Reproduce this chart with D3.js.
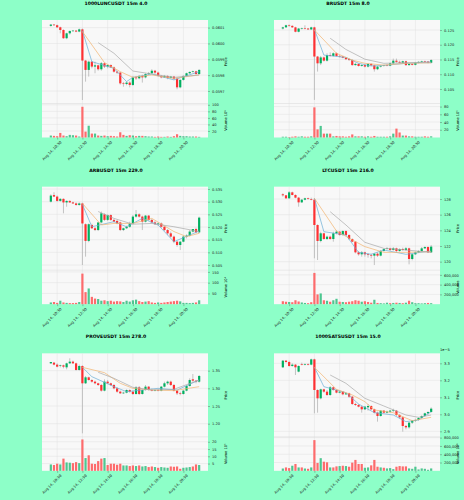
<!DOCTYPE html>
<html>
<head>
<meta charset="utf-8">
<script src="https://cdn.jsdelivr.net/npm/d3@7"></script>
<style>
  body { margin: 0; background: #8dffc8; }
  text { font-family: "DejaVu Sans", sans-serif; }
</style>
</head>
<body>
<div id="chart"></div>
<script>
// x ticks (candle index) shared by all six panels
const tickIdx = [2, 10, 18, 26, 34, 42];
const tickLabels = ["Aug 14, 10:30", "Aug 14, 12:30", "Aug 14, 14:30", "Aug 14, 16:30", "Aug 14, 18:30", "Aug 14, 20:30"];

// ---- 1000LUNCUSDT  [open, high, low, close]
const luncOhlc = [
[0.060111,0.060123,0.060106,0.060119],[0.060119,0.060123,0.060111,0.060115],[0.060115,0.060119,0.060098,0.060102],
[0.060102,0.060106,0.060064,0.060085],[0.060085,0.060089,0.060029,0.060033],[0.060033,0.060068,0.060027,0.060064],
[0.060064,0.060081,0.060056,0.060079],[0.060079,0.060085,0.060075,0.060081],[0.060081,0.060085,0.060071,0.060075],
[0.060075,0.060094,0.060071,0.060089],[0.060089,0.060094,0.059643,0.059892],[0.059892,0.059896,0.059759,0.059833],
[0.059833,0.059892,0.059791,0.059885],[0.059885,0.059889,0.059843,0.059854],[0.059854,0.059885,0.059812,0.059862],
[0.059862,0.059866,0.059828,0.059837],[0.059837,0.059883,0.059828,0.059875],[0.059875,0.059879,0.059845,0.059854],
[0.059854,0.059868,0.059843,0.059864],[0.059864,0.059868,0.059847,0.059849],[0.059849,0.059854,0.059816,0.059822],
[0.059822,0.059828,0.059807,0.059816],[0.059816,0.059820,0.059740,0.059748],[0.059748,0.059757,0.059727,0.059744],
[0.059744,0.059761,0.059736,0.059753],[0.059753,0.059761,0.059723,0.059738],[0.059738,0.059795,0.059732,0.059786],
[0.059786,0.059795,0.059770,0.059780],[0.059780,0.059801,0.059774,0.059795],[0.059795,0.059803,0.059753,0.059786],
[0.059786,0.059812,0.059780,0.059807],[0.059807,0.059820,0.059801,0.059812],[0.059812,0.059837,0.059807,0.059828],
[0.059828,0.059833,0.059807,0.059816],[0.059816,0.059822,0.059791,0.059795],[0.059795,0.059801,0.059780,0.059786],
[0.059786,0.059801,0.059782,0.059795],[0.059795,0.059799,0.059774,0.059782],[0.059782,0.059795,0.059778,0.059791],
[0.059791,0.059795,0.059770,0.059778],[0.059778,0.059786,0.059711,0.059723],[0.059723,0.059774,0.059717,0.059770],
[0.059770,0.059799,0.059765,0.059795],[0.059795,0.059816,0.059791,0.059812],[0.059812,0.059824,0.059807,0.059820],
[0.059820,0.059828,0.059816,0.059824],[0.059824,0.059828,0.059803,0.059807],[0.059807,0.059837,0.059803,0.059833]
];
const luncVol = [6,5,4,14,6,4,8,7,6,3,94,18,36,12,12,6,5,6,4,5,4,3,16,8,5,7,6,4,5,5,4,3,3,2,3,2,2,3,2,4,10,5,4,4,3,3,3,2];
const luncMaFast = [[10,0.060081],[13,0.059885],[20,0.059843],[24,0.059759],[26,0.059786],[32,0.059807],[39,0.05977],[47,0.059822]];
const luncMaMid = [[10,0.060075],[17,0.059879],[22,0.059822],[26,0.059786],[32,0.059801],[39,0.05978],[47,0.059801]];
const luncMaSlow = [[15,0.060005],[20,0.059938],[26,0.059826],[32,0.059807],[39,0.059786],[47,0.059801]];
const luncPriceTicks = [0.0597, 0.0598, 0.0599, 0.0600, 0.0601];
const luncVolTicks = [20, 40, 60, 80, 100];

// ---- BRUSDT
const brOhlc = [
[0.1255,0.1261,0.1252,0.1259],[0.1259,0.1268,0.1258,0.1266],[0.1266,0.1269,0.1261,0.1264],[0.1264,0.1266,0.1257,0.1259],
[0.1259,0.1261,0.1242,0.1244],[0.1244,0.1257,0.1242,0.1255],[0.1255,0.1258,0.1252,0.1256],[0.1256,0.1266,0.1252,0.1255],
[0.1255,0.1257,0.1250,0.1252],[0.1252,0.1261,0.1250,0.1259],[0.1259,0.1261,0.1013,0.1160],[0.1160,0.1162,0.1109,0.1137],
[0.1137,0.1162,0.1131,0.1157],[0.1157,0.1160,0.1143,0.1146],[0.1146,0.1171,0.1143,0.1165],[0.1165,0.1174,0.1160,0.1162],
[0.1162,0.1174,0.1160,0.1171],[0.1171,0.1174,0.1160,0.1162],[0.1162,0.1165,0.1157,0.1160],[0.1160,0.1162,0.1154,0.1156],
[0.1156,0.1158,0.1148,0.1151],[0.1151,0.1154,0.1146,0.1148],[0.1148,0.1151,0.1129,0.1131],[0.1131,0.1139,0.1129,0.1135],
[0.1135,0.1137,0.1126,0.1128],[0.1128,0.1134,0.1126,0.1131],[0.1131,0.1134,0.1123,0.1126],[0.1126,0.1137,0.1123,0.1135],
[0.1135,0.1137,0.1128,0.1130],[0.1130,0.1132,0.1109,0.1117],[0.1117,0.1128,0.1114,0.1126],[0.1126,0.1130,0.1123,0.1128],
[0.1128,0.1132,0.1126,0.1130],[0.1130,0.1134,0.1127,0.1129],[0.1129,0.1139,0.1127,0.1137],[0.1137,0.1153,0.1135,0.1146],
[0.1146,0.1153,0.1139,0.1142],[0.1142,0.1146,0.1137,0.1139],[0.1139,0.1146,0.1137,0.1144],[0.1144,0.1146,0.1128,0.1131],
[0.1131,0.1137,0.1129,0.1135],[0.1135,0.1137,0.1130,0.1132],[0.1132,0.1142,0.1130,0.1139],[0.1139,0.1144,0.1137,0.1142],
[0.1142,0.1146,0.1139,0.1144],[0.1144,0.1146,0.1139,0.1143],[0.1143,0.1145,0.1137,0.1139],[0.1139,0.1151,0.1137,0.1148]
];
const brVol = [2,2,1,2,3,2,3,2,2,3,78,21,30,10,10,10,3,4,3,3,2,3,8,3,3,3,2,3,2,4,2,2,2,2,3,10,23,13,5,5,3,3,2,2,2,3,2,3];
const brMaFast = [[10,0.1252],[13,0.1165],[20,0.1157],[24,0.1137],[28,0.1128],[32,0.1130],[39,0.1137],[47,0.1142]];
const brMaMid = [[10,0.1250],[17,0.1171],[22,0.1148],[26,0.1137],[32,0.1131],[39,0.1137],[47,0.1139]];
const brMaSlow = [[15,0.1222],[20,0.1184],[26,0.1151],[32,0.1137],[39,0.1139],[47,0.1139]];
const brPriceTicks = [0.105, 0.110, 0.115, 0.120, 0.125];
const brVolTicks = [20, 40, 60, 80];

// ---- ARBUSDT
const arbOhlc = [
[0.5300,0.5329,0.5297,0.5324],[0.5326,0.5337,0.5319,0.5320],[0.5320,0.5324,0.5300,0.5303],[0.5303,0.5314,0.5300,0.5311],
[0.5311,0.5313,0.5254,0.5297],[0.5297,0.5305,0.5280,0.5303],[0.5303,0.5305,0.5295,0.5297],[0.5297,0.5300,0.5291,0.5293],
[0.5293,0.5297,0.5284,0.5287],[0.5287,0.5297,0.5284,0.5293],[0.5293,0.5296,0.5050,0.5214],[0.5211,0.5214,0.5083,0.5145],
[0.5145,0.5214,0.5140,0.5211],[0.5208,0.5213,0.5192,0.5195],[0.5195,0.5200,0.5184,0.5188],[0.5188,0.5218,0.5184,0.5218],
[0.5218,0.5261,0.5214,0.5254],[0.5250,0.5254,0.5224,0.5228],[0.5228,0.5250,0.5224,0.5247],[0.5247,0.5250,0.5224,0.5228],
[0.5228,0.5232,0.5218,0.5221],[0.5224,0.5228,0.5211,0.5214],[0.5218,0.5221,0.5184,0.5188],[0.5188,0.5197,0.5184,0.5195],
[0.5195,0.5205,0.5192,0.5201],[0.5201,0.5221,0.5197,0.5214],[0.5214,0.5247,0.5211,0.5241],[0.5241,0.5267,0.5237,0.5250],
[0.5250,0.5254,0.5237,0.5241],[0.5241,0.5245,0.5188,0.5221],[0.5221,0.5247,0.5218,0.5245],[0.5245,0.5247,0.5224,0.5228],
[0.5228,0.5232,0.5214,0.5218],[0.5218,0.5224,0.5208,0.5211],[0.5211,0.5218,0.5205,0.5214],[0.5214,0.5218,0.5197,0.5201],
[0.5201,0.5205,0.5184,0.5188],[0.5188,0.5192,0.5168,0.5175],[0.5175,0.5182,0.5158,0.5162],[0.5162,0.5166,0.5136,0.5142],
[0.5142,0.5145,0.5122,0.5129],[0.5129,0.5145,0.5109,0.5142],[0.5142,0.5166,0.5140,0.5162],[0.5162,0.5171,0.5155,0.5166],
[0.5166,0.5188,0.5163,0.5182],[0.5182,0.5192,0.5179,0.5192],[0.5192,0.5197,0.5175,0.5179],[0.5179,0.5241,0.5175,0.5237]
];
const arbVol = [8,10,6,16,8,6,5,5,6,10,142,56,73,34,26,24,16,18,14,16,12,14,13,10,16,12,18,21,14,10,12,14,8,6,8,6,8,10,12,14,16,13,6,6,5,6,8,18];
const arbMaFast = [[10,0.5289],[13,0.5201],[20,0.5221],[24,0.5201],[29,0.5234],[34,0.5208],[39,0.5142],[47,0.5184]];
const arbMaMid = [[10,0.5293],[16,0.5208],[20,0.5214],[26,0.5214],[32,0.5234],[39,0.5182],[43,0.5162],[47,0.5175]];
const arbMaSlow = [[15,0.5261],[20,0.5234],[26,0.5211],[32,0.5214],[39,0.5201],[47,0.5182]];
const arbPriceTicks = [0.505, 0.510, 0.515, 0.520, 0.525, 0.530, 0.535];
const arbVolTicks = [50, 100, 150];

// ---- LTCUSDT
const ltcOhlc = [
[128.60,128.72,128.30,128.47],[128.47,128.51,128.00,128.09],[128.09,129.02,128.00,128.85],[128.85,128.94,128.47,128.51],
[128.51,128.60,128.09,128.17],[128.17,128.26,127.02,127.57],[127.57,128.00,127.49,127.91],[127.91,128.17,127.83,128.09],
[128.09,128.17,127.91,128.00],[128.00,128.17,127.83,127.91],[127.91,128.09,120.43,124.68],[124.68,124.77,120.21,122.64],
[122.64,123.83,122.47,123.62],[123.62,123.70,122.81,122.89],[122.89,123.32,122.77,123.19],[123.19,123.32,122.81,122.89],
[122.89,123.83,122.55,123.62],[123.62,124.00,123.49,123.83],[123.83,123.91,123.32,123.40],[123.40,124.00,123.32,123.91],
[123.91,124.00,123.32,123.40],[123.40,123.49,122.77,122.89],[122.89,122.98,122.47,122.55],[122.55,122.64,121.06,121.19],
[121.19,121.36,120.77,120.94],[120.94,121.36,120.64,121.19],[121.19,121.28,120.64,120.94],[120.94,121.11,120.51,120.85],
[120.85,121.02,120.43,120.77],[120.77,121.11,119.57,121.02],[121.02,121.19,120.60,120.77],[120.77,121.49,120.68,121.36],
[121.36,121.70,121.28,121.62],[121.62,121.87,121.53,121.70],[121.70,121.79,121.36,121.49],[121.49,121.87,121.40,121.70],
[121.70,121.79,121.19,121.36],[121.36,121.70,121.28,121.62],[121.62,121.79,121.40,121.49],[121.49,121.87,121.36,121.70],
[121.70,121.79,119.66,120.34],[120.34,121.02,120.17,120.94],[120.94,121.28,120.85,121.19],[121.19,121.45,121.11,121.36],
[121.36,121.87,121.28,121.70],[121.70,121.96,121.62,121.87],[121.87,121.96,121.11,121.19],[121.19,122.13,121.11,121.92]
];
const ltcVol = [60000,50000,45000,40000,80000,55000,35000,25000,20000,40000,640000,200000,220000,80000,70000,50000,
  80000,110000,50000,45000,40000,50000,60000,80000,70000,50000,60000,45000,30000,90000,25000,20000,
  15000,30000,20000,25000,30000,25000,20000,30000,70000,40000,20000,20000,15000,20000,25000,20000];
const ltcMaFast = [[10,128.09],[13,123.83],[20,123.40],[24,121.19],[28,120.94],[32,121.49],[39,120.94],[47,121.36]];
const ltcMaMid = [[10,128.09],[17,123.91],[22,122.77],[26,121.92],[32,121.19],[39,121.19],[47,121.28]];
const ltcMaSlow = [[15,126.38],[20,124.68],[26,122.47],[32,121.70],[39,121.49],[47,121.19]];
const ltcPriceTicks = [120, 122, 124, 126, 128];
const ltcVolTicks = [200000, 400000, 600000];

// ---- PROVEUSDT
const proveOhlc = [
[1.3707,1.3745,1.3689,1.3745],[1.3726,1.3745,1.3651,1.3670],[1.3670,1.3707,1.3594,1.3613],[1.3632,1.3670,1.3594,1.3651],
[1.3651,1.3670,1.3566,1.3613],[1.3594,1.3726,1.3538,1.3707],[1.3707,1.3849,1.3689,1.3755],[1.3755,1.3783,1.3689,1.3707],
[1.3707,1.3726,1.3500,1.3519],[1.3519,1.3670,1.3500,1.3632],[1.3632,1.3651,1.1727,1.3142],[1.3142,1.3349,1.3123,1.3311],
[1.3311,1.3330,1.3217,1.3236],[1.3236,1.3255,1.3160,1.3189],[1.3189,1.3217,1.3113,1.3142],[1.3142,1.3160,1.3066,1.3094],
[1.3094,1.3123,1.2906,1.2934],[1.2934,1.3255,1.2915,1.3189],[1.3189,1.3236,1.3123,1.3142],[1.3142,1.3160,1.3066,1.3094],
[1.3094,1.3123,1.2972,1.3000],[1.3000,1.3028,1.2877,1.2906],[1.2906,1.2934,1.2840,1.2859],[1.2859,1.2906,1.2840,1.2877],
[1.2877,1.2972,1.2859,1.2953],[1.2953,1.2972,1.2877,1.2906],[1.2906,1.2934,1.2811,1.2840],[1.2840,1.3066,1.2821,1.3028],
[1.3028,1.3066,1.2811,1.2840],[1.2840,1.2972,1.2821,1.2953],[1.2953,1.3094,1.2934,1.3047],[1.3047,1.3066,1.2934,1.2953],
[1.2953,1.2991,1.2915,1.2934],[1.2934,1.2972,1.2915,1.2953],[1.2953,1.2991,1.2915,1.2934],[1.2934,1.3066,1.2915,1.3047],
[1.3047,1.3189,1.3028,1.3142],[1.3142,1.3217,1.3094,1.3189],[1.3189,1.3217,1.3066,1.3094],[1.3094,1.3123,1.2915,1.2934],
[1.2934,1.2953,1.2811,1.2859],[1.2859,1.2906,1.2802,1.2840],[1.2840,1.2953,1.2821,1.2934],[1.2934,1.3094,1.2915,1.3066],
[1.3066,1.3283,1.3047,1.3236],[1.3255,1.3406,1.3189,1.3217],[1.3217,1.3236,1.3142,1.3189],[1.3189,1.3377,1.3160,1.3349]
];
const proveVol = [4.4,4,4.9,4.4,8.4,5.8,5.6,5.3,6,5.3,21.6,8.8,10.7,4.9,4.7,6.7,8.4,8.8,4,4.9,4.9,4.2,4.9,3.7,
  3.7,3.3,3.7,3.3,3.7,3,3.3,2.6,3,2.6,2.1,2.6,2.3,2.1,3,2.8,3,1.4,2.1,2.3,2.6,3,4.4,4];
const proveMaFast = [[10,1.3594],[13,1.3330],[20,1.3047],[24,1.2906],[29,1.2953],[34,1.3000],[40,1.2953],[47,1.3236]];
const proveMaMid = [[10,1.3594],[17,1.3443],[22,1.3142],[26,1.3000],[32,1.2953],[39,1.2934],[47,1.3047]];
const proveMaSlow = [[15,1.3453],[20,1.3283],[26,1.3028],[32,1.2953],[39,1.2972],[47,1.3236]];
const provePriceTicks = [1.20, 1.25, 1.30, 1.35];
const proveVolTicks = [5, 10, 15, 20];

// ---- 1000SATSUSDT (price in units of 1e-5, as the axis shows)
const satsOhlc = [
[3.2765,3.3196,3.2725,3.3157],[3.3157,3.3196,3.3039,3.3078],[3.3078,3.3157,3.2804,3.2843],[3.2843,3.3000,3.2804,3.2922],
[3.2922,3.2961,3.2314,3.2765],[3.2510,3.2882,3.2471,3.2843],[3.2961,3.3039,3.2882,3.2922],[3.2922,3.3000,3.2882,3.2961],
[3.2961,3.3000,3.2882,3.2922],[3.2922,3.3275,3.2882,3.3235],[3.3235,3.3275,3.0059,3.1431],[3.1431,3.1471,3.0098,3.0941],
[3.0941,3.1510,3.0882,3.1471],[3.1471,3.1510,3.1275,3.1333],[3.1333,3.1431,3.1078,3.1137],[3.1137,3.1667,3.1078,3.1588],
[3.1588,3.1627,3.1392,3.1431],[3.1431,3.1471,3.1235,3.1275],[3.1275,3.1392,3.1235,3.1333],[3.1333,3.1373,3.1118,3.1176],
[3.1176,3.1275,3.1137,3.1235],[3.1235,3.1275,3.0961,3.1039],[3.1039,3.1078,3.0549,3.0608],[3.0608,3.0686,3.0490,3.0549],
[3.0549,3.0608,3.0412,3.0451],[3.0451,3.0490,3.0098,3.0294],[3.0294,3.0490,3.0255,3.0451],[3.0412,3.0608,3.0216,3.0490],
[3.0490,3.0529,3.0255,3.0294],[3.0294,3.0333,3.0059,3.0098],[3.0098,3.0157,2.9569,2.9902],[2.9902,3.0255,2.9863,3.0216],
[3.0216,3.0255,3.0059,3.0098],[3.0098,3.0216,3.0059,3.0157],[3.0157,3.0255,3.0098,3.0216],[3.0216,3.0333,3.0137,3.0255],
[3.0216,3.0255,2.9902,2.9961],[2.9961,3.0020,2.9745,2.9824],[2.9824,2.9863,2.8980,2.9314],[2.9314,2.9373,2.9118,2.9235],
[2.9235,2.9549,2.9157,2.9510],[2.9510,2.9667,2.9431,2.9627],[2.9627,2.9745,2.9549,2.9667],[2.9667,2.9824,2.9627,2.9784],
[2.9784,2.9941,2.9745,2.9902],[2.9902,3.0098,2.9863,3.0059],[3.0059,3.0176,2.9961,3.0137],[3.0137,3.0412,3.0098,3.0333]
];
const satsVol = [56000,82000,66000,123000,165000,82000,82000,56000,49000,82000,740000,190000,305000,220000,205000,82000,
  82000,107000,115000,123000,115000,99000,197000,263000,165000,165000,74000,82000,132000,263000,99000,82000,
  74000,58000,66000,41000,99000,115000,107000,107000,58000,49000,99000,33000,58000,49000,25000,58000];
const satsMaFast = [[10,3.2765],[13,3.1627],[20,3.1275],[24,3.0608],[29,3.0098],[35,2.9961],[39,2.9569],[43,2.9667],[47,3.0157]];
const satsMaMid = [[10,3.2765],[17,3.1471],[22,3.1137],[26,3.0745],[29,3.0255],[35,3.0098],[41,2.9627],[47,2.9824]];
const satsMaSlow = [[15,3.2314],[20,3.1824],[26,3.0941],[32,3.0490],[39,2.9961],[43,2.9824],[47,2.9961]];
const satsPriceTicks = [2.9, 3.0, 3.1, 3.2, 3.3];
const satsVolTicks = [200000, 400000, 600000, 800000];

const panels = [
  { title: "1000LUNCUSDT 15m 4.0", ohlc: luncOhlc, vol: luncVol, ma: [luncMaFast, luncMaMid, luncMaSlow],
    price: [0.059621, 0.060148], pTicks: luncPriceTicks, pFmt: d3.format(".4f"),
    volMax: 104, vTicks: luncVolTicks, vLabel: "Volume  10\u2076" },
  { title: "BRUSDT 15m 8.0", ohlc: brOhlc, vol: brVol, ma: [brMaFast, brMaMid, brMaSlow],
    price: [0.10008, 0.12839], pTicks: brPriceTicks, pFmt: d3.format(".3f"),
    volMax: 88, vTicks: brVolTicks, vLabel: "Volume  10\u2075" },
  { title: "ARBUSDT 15m 229.0", ohlc: arbOhlc, vol: arbVol, ma: [arbMaFast, arbMaMid, arbMaSlow],
    price: [0.50296, 0.53592], pTicks: arbPriceTicks, pFmt: d3.format(".3f"),
    volMax: 158, vTicks: arbVolTicks, vLabel: "Volume  10\u2074" },
  { title: "LTCUSDT 15m 216.0", ohlc: ltcOhlc, vol: ltcVol, ma: [ltcMaFast, ltcMaMid, ltcMaSlow],
    price: [118.915, 129.574], pTicks: ltcPriceTicks, pFmt: d3.format("d"),
    volMax: 696000, vTicks: ltcVolTicks, vLabel: "Volume" },
  { title: "PROVEUSDT 15m 278.0", ohlc: proveOhlc, vol: proveVol, ma: [proveMaFast, proveMaMid, proveMaSlow],
    price: [1.1628, 1.3990], pTicks: provePriceTicks, pFmt: d3.format(".2f"),
    volMax: 23.4, vTicks: proveVolTicks, vLabel: "Volume  10\u2075" },
  { title: "1000SATSUSDT 15m 15.0", ohlc: satsOhlc, vol: satsVol, ma: [satsMaFast, satsMaMid, satsMaSlow],
    price: [2.8676, 3.3588], pTicks: satsPriceTicks, pFmt: d3.format(".1f"),
    volMax: 819000, vTicks: satsVolTicks, vLabel: "Volume  10\u2076", offset: "1e\u22125" }
];

const W = 464, H = 500;
const upColor = "#00b060", downColor = "#fe3032";
const upVol = "#4dc790", downVol = "#fd6b6c";
const maColors = ["#6aaed6", "#f2b36f", "#a9a9a9"];

const svg = d3.select("#chart").append("svg")
    .attr("width", W)
    .attr("height", H);

svg.append("rect").attr("width", W).attr("height", H).attr("fill", "#8dffc8");

panels.forEach((p, k) => {
  const col = k % 2, row = Math.floor(k / 2);
  const g = svg.append("g").attr("transform", `translate(${col * 232},${row * H / 3})`);

  const L = 42, R = 208, T = 20, S = 103.5, B = 137.5;
  const x = d3.scaleLinear().domain([-2.8, 49.8]).range([L, R]);
  const y = d3.scaleLinear().domain(p.price).range([S, T]);
  const yv = d3.scaleLinear().domain([0, p.volMax]).range([B, S]);
  const bw = 2.2;

  // plot faces
  g.append("rect").attr("x", L).attr("y", T).attr("width", R - L).attr("height", B - T)
    .attr("fill", "#f8f8f8");

  // grid
  const grid = g.append("g").attr("stroke", "#e0e0e0").attr("stroke-width", 0.5);
  grid.selectAll(".gx").data(tickIdx).enter().append("line")
    .attr("x1", d => x(d)).attr("x2", d => x(d)).attr("y1", T).attr("y2", B);
  grid.selectAll(".gy").data(p.pTicks).enter().append("line")
    .attr("x1", L).attr("x2", R).attr("y1", d => y(d)).attr("y2", d => y(d));
  grid.selectAll(".gv").data(p.vTicks).enter().append("line")
    .attr("x1", L).attr("x2", R).attr("y1", d => yv(d)).attr("y2", d => yv(d));
  g.append("line").attr("x1", L).attr("x2", R).attr("y1", S).attr("y2", S)
    .attr("stroke", "#d8d8d8").attr("stroke-width", 0.5);

  // volume bars
  g.append("g").selectAll("rect").data(p.vol).enter().append("rect")
    .attr("x", (d, i) => x(i) - bw / 2)
    .attr("y", d => yv(d))
    .attr("width", bw)
    .attr("height", d => B - yv(d))
    .attr("fill", (d, i) => p.ohlc[i][3] >= p.ohlc[i][0] ? upVol : downVol);

  // wicks
  g.append("g").selectAll("line").data(p.ohlc).enter().append("line")
    .attr("x1", (d, i) => x(i)).attr("x2", (d, i) => x(i))
    .attr("y1", d => y(d[1])).attr("y2", d => y(d[2]))
    .attr("stroke", "#a0a0a0").attr("stroke-width", 0.6);

  // bodies
  g.append("g").selectAll("rect").data(p.ohlc).enter().append("rect")
    .attr("x", (d, i) => x(i) - bw / 2)
    .attr("y", d => y(Math.max(d[0], d[3])))
    .attr("width", bw)
    .attr("height", d => Math.max(0.6, Math.abs(y(d[0]) - y(d[3]))))
    .attr("fill", d => d[3] >= d[0] ? upColor : downColor);

  // moving averages
  const line = d3.line().x(d => x(d[0])).y(d => y(d[1]));
  p.ma.forEach((m, j) => {
    g.append("path").datum(m)
      .attr("d", line)
      .attr("fill", "none")
      .attr("stroke", maColors[j])
      .attr("stroke-width", 0.7);
  });

  // axes
  const ya = g.append("g").attr("transform", `translate(${R},0)`)
    .call(d3.axisRight(y).tickValues(p.pTicks).tickFormat(p.pFmt).tickSize(2).tickPadding(2));
  const va = g.append("g").attr("transform", `translate(${R},0)`)
    .call(d3.axisRight(yv).tickValues(p.vTicks).tickSize(2).tickPadding(2));
  const xa = g.append("g").attr("transform", `translate(0,${B})`)
    .call(d3.axisBottom(x).tickValues(tickIdx).tickFormat((d, i) => tickLabels[i]).tickSize(2).tickPadding(1));
  [ya, va, xa].forEach(a => {
    a.select(".domain").remove();
    a.selectAll("line").attr("stroke", "#555").attr("stroke-width", 0.4);
    a.selectAll("text").attr("font-size", 3.6).attr("fill", "#222")
      .attr("font-family", "DejaVu Sans, sans-serif");
  });
  xa.selectAll("text")
    .attr("text-anchor", "end")
    .attr("dy", 0)
    .attr("transform", function () {
      return "translate(2,3) rotate(-45)";
    });

  // labels
  g.append("text").attr("x", 116).attr("y", 5)
    .attr("text-anchor", "middle").attr("font-size", 4.6).attr("font-weight", "bold")
    .text(p.title);
  g.append("text")
    .attr("transform", `translate(${R + 19},${(T + S) / 2}) rotate(-90)`)
    .attr("text-anchor", "middle").attr("font-size", 3.6)
    .text("Price");
  g.append("text")
    .attr("transform", `translate(${R + 19},${(S + B) / 2}) rotate(-90)`)
    .attr("text-anchor", "middle").attr("font-size", 3.6)
    .text(p.vLabel);
  if (p.offset) {
    g.append("text").attr("x", R).attr("y", T - 2)
      .attr("font-size", 3.6).text(p.offset);
  }
});
</script>
</body>
</html>
